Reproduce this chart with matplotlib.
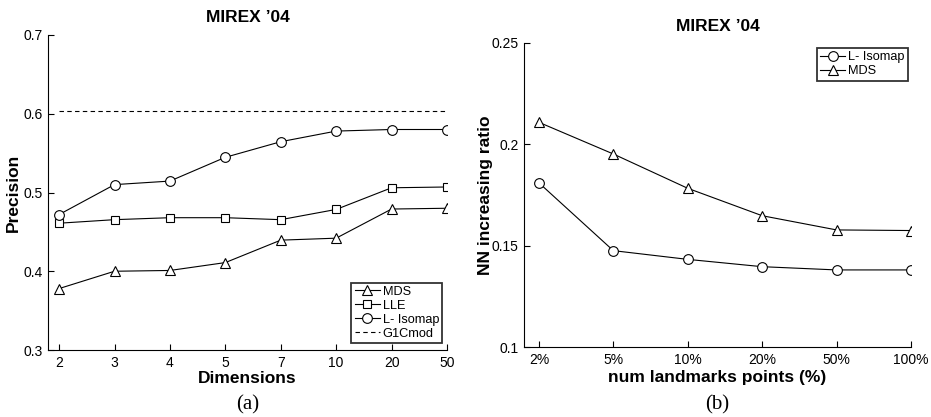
import matplotlib
matplotlib.use("Agg")
import matplotlib.pyplot as plt

plt.rcParams['font.family'] = ['Liberation Sans', 'DejaVu Sans']

# Panel (a)
dims = ['2', '3', '4', '5', '7', '10', '20', '50']
mds_a = [0.378, 0.400, 0.401, 0.411, 0.4395, 0.442, 0.479, 0.480]
lle_a = [0.461, 0.4655, 0.468, 0.468, 0.4655, 0.4785, 0.506, 0.507]
liso_a = [0.472, 0.510, 0.5145, 0.5447, 0.5645, 0.578, 0.580, 0.580]
g1cmod = 0.603
yticks_a = [0.3, 0.4, 0.5, 0.6, 0.7]

# Panel (b)
landmarks = ['2%', '5%', '10%', '20%', '50%', '100%']
liso_b = [0.181, 0.1476, 0.1433, 0.1397, 0.1381, 0.1381]
mds_b = [0.2108, 0.1952, 0.1783, 0.1648, 0.1578, 0.1575]
yticks_b = [0.1, 0.15, 0.2, 0.25]

fig = plt.figure(figsize=(9.31, 4.17), dpi=100)
ax1 = fig.add_axes([48/931, 1-350/417, (447-48)/931, (350-35)/417])
ax2 = fig.add_axes([524/931, 1-347.3/417, (911-524)/931, (347.3-42.7)/417])

mk = dict(color='black', lw=0.8, markerfacecolor='white', markeredgecolor='black', markeredgewidth=0.8)

xa = list(range(1, len(dims)+1))
ax1.plot(xa, mds_a, marker='^', markersize=7.5, label='MDS', **mk)
ax1.plot(xa, lle_a, marker='s', markersize=5.5, label='LLE', **mk)
ax1.plot(xa, liso_a, marker='o', markersize=7, label='L- Isomap', **mk)
ax1.plot([xa[0], xa[-1]], [g1cmod, g1cmod], ls=(0, (4, 3)), color='black', lw=0.8, label='G1Cmod')
ax1.set_xlim(0.8, len(dims))
ax1.set_ylim(0.3, 0.7)
ax1.set_xticks(xa)
ax1.set_xticklabels(dims)
ax1.set_yticks(yticks_a)
ax1.set_yticklabels([f'{v:g}' for v in yticks_a])
ax1.text(0.5, 1 + 18/315, "MIREX ’04", transform=ax1.transAxes, fontsize=12.5, fontweight='bold', ha='center', va='center')
ax1.set_xlabel('Dimensions', fontsize=12.5, fontweight='bold')
ax1.set_ylabel('Precision', fontsize=12.5, fontweight='bold')
ax1.xaxis.set_label_coords(0.5, -21/315)
ax1.yaxis.set_label_coords(-27/399, 0.5)
leg1 = ax1.legend(loc='lower right', bbox_to_anchor=(0.995, 0.015), fontsize=9.2, frameon=True, fancybox=False,
                  handlelength=2.0, handletextpad=0.2, borderpad=0.25, labelspacing=0.15, borderaxespad=0.2)
leg1.get_frame().set_edgecolor('black')
leg1.get_frame().set_linewidth(1.3)

xb = list(range(1, len(landmarks)+1))
ax2.plot(xb, liso_b, marker='o', markersize=7, label='L- Isomap', **mk)
ax2.plot(xb, mds_b, marker='^', markersize=7.5, label='MDS', **mk)
ax2.set_xlim(0.8, len(landmarks))
ax2.set_ylim(0.1, 0.25)
ax2.set_xticks(xb)
ax2.set_xticklabels(landmarks)
ax2.set_yticks(yticks_b)
ax2.set_yticklabels([f'{v:g}' for v in yticks_b])
ax2.text(0.5, 1 + 15.7/304.6, "MIREX ’04", transform=ax2.transAxes, fontsize=12.5, fontweight='bold', ha='center', va='center')
ax2.set_xlabel('num landmarks points (%)', fontsize=12.5, fontweight='bold')
ax2.set_ylabel('NN increasing ratio', fontsize=12.5, fontweight='bold')
ax2.xaxis.set_label_coords(0.5, -23/304.6)
ax2.yaxis.set_label_coords(-31/387, 0.5)
leg2 = ax2.legend(loc='upper right', bbox_to_anchor=(0.998, 0.99), fontsize=9.2, frameon=True, fancybox=False,
                  handlelength=2.0, handletextpad=0.2, borderpad=0.25, labelspacing=0.15, borderaxespad=0.2)
leg2.get_frame().set_edgecolor('black')
leg2.get_frame().set_linewidth(1.3)

for ax in (ax1, ax2):
    ax.spines['top'].set_visible(False)
    ax.spines['right'].set_visible(False)
    ax.spines['left'].set_linewidth(0.8)
    ax.spines['bottom'].set_linewidth(0.8)
    ax.tick_params(direction='in', length=4, width=0.8, labelsize=10, pad=4)

fig.text(248/931, 1-405/417, '(a)', family=['Liberation Serif'], fontsize=15, ha='center', va='center')
fig.text(717/931, 1-405/417, '(b)', family=['Liberation Serif'], fontsize=15, ha='center', va='center')

fig.savefig('out.png', dpi=100)
